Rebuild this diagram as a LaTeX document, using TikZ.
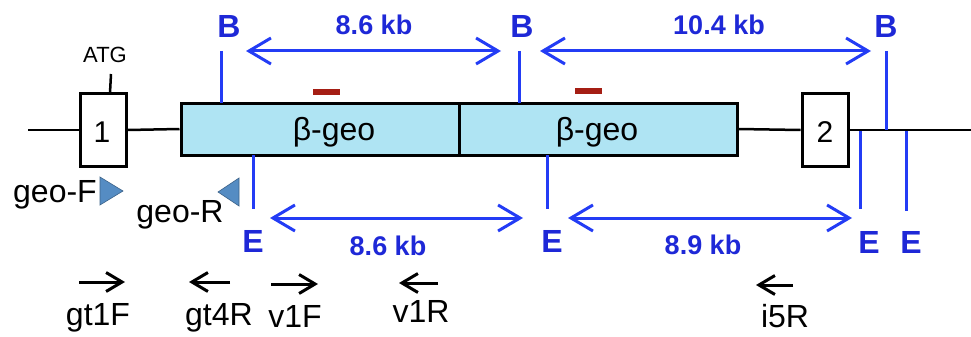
\documentclass[tikz,border=0pt]{standalone}
\usepackage{fontspec}
\setmainfont{Liberation Sans}
\usetikzlibrary{arrows.meta}
\definecolor{geoblue}{RGB}{175,228,243}
\definecolor{siteblue}{RGB}{35,60,245}
\definecolor{txtblue}{RGB}{30,40,215}
\definecolor{probecol}{RGB}{165,30,20}
\definecolor{primercol}{RGB}{85,140,195}
\begin{document}
\begin{tikzpicture}[x=1pt,y=-1pt,
  exonbox/.style={draw=black,line width=3pt,fill=white,inner sep=0pt,minimum width=46pt,minimum height=73pt},
  geobox/.style={draw=black,line width=3pt,fill=geoblue,inner sep=0pt,minimum width=278pt,minimum height=52pt},
  mainline/.style={line width=2.5pt,black},
  siteline/.style={line width=3pt,siteblue},
  dimarrow/.style={line width=3pt,siteblue,{Straight Barb[length=22pt,width=26pt,line width=3pt]}-{Straight Barb[length=22pt,width=26pt,line width=3pt]}},
  sitelbl/.style={text=txtblue,font=\fontsize{32}{38}\selectfont\bfseries,inner sep=0pt},
  kblbl/.style={text=txtblue,font=\fontsize{27}{32}\selectfont\bfseries,inner sep=0pt},
  lbl/.style={text=black,font=\fontsize{32}{38}\selectfont,inner sep=0pt,anchor=base},
  primerarrow/.style={line width=3pt,black,-{Straight Barb[length=16pt,width=19pt,line width=3pt]}},
  probebar/.style={line width=6pt,probecol},
  tri/.style={fill=primercol,draw=primercol!70!black,line width=0.6pt}
]
\useasboundingbox (0,0) rectangle (971,337);

% main line and boxes
\coordinate (lineL) at (28,130);
\coordinate (lineR) at (971,130);
\node[exonbox] (ex1) at (103,130) {};
\node[geobox] (geo1) at (320,129) {};
\node[geobox] (geo2) at (598,129) {};
\node[exonbox] (ex2) at (825,130) {};
\draw[mainline] (lineL) -- (ex1.west);
\draw[mainline] (ex1.east) -- (geo1.west);
\draw[mainline] (geo2.east) -- (ex2.west);
\draw[mainline] (ex2.east) -- (lineR);
\node[geobox] at (320,129) {};
\node[geobox] at (598,129) {};
\node[exonbox] at (103,130) {};
\node[exonbox] at (825,130) {};

\node[lbl,font=\fontsize{30}{34}\selectfont] (n1) at (102,142) {1};
\node[lbl,font=\fontsize{30}{34}\selectfont] (n2) at (825,142) {2};
\node[lbl] (g1lbl) at (334,140) {β-geo};
\node[lbl] (g2lbl) at (597,140) {β-geo};

% ATG
\node[lbl,font=\fontsize{22}{26}\selectfont] (atg) at (105,63) {ATG};
\coordinate (atgtop) at (111,74);
\coordinate (atgbot) at (110,93);
\draw[line width=2.5pt] (atgtop) -- (atgbot);

% probes
\coordinate (p1a) at (313,92); \coordinate (p1b) at (340,92);
\coordinate (p2a) at (575,91); \coordinate (p2b) at (602,91);
\draw[probebar] (p1a) -- (p1b);
\draw[probebar] (p2a) -- (p2b);

% B sites
\node[sitelbl] (B1) at (229,26) {B};
\node[sitelbl] (B2) at (522,26) {B};
\node[sitelbl] (B3) at (886,26) {B};
\coordinate (b1t) at (221,51); \coordinate (b1b) at (221,103);
\coordinate (b2t) at (519,51); \coordinate (b2b) at (519,103);
\coordinate (b3t) at (886,51); \coordinate (b3b) at (886,130);
\draw[siteline] (b1t) -- (b1b);
\draw[siteline] (b2t) -- (b2b);
\draw[siteline] (b3t) -- (b3b);

% top distances
\coordinate (ta1) at (246,51); \coordinate (ta2) at (501,51);
\coordinate (tb1) at (540,51); \coordinate (tb2) at (871,51);
\draw[dimarrow] (ta1) -- (ta2);
\draw[dimarrow] (tb1) -- (tb2);
\node[kblbl] (kb1) at (374,25) {8.6 kb};
\node[kblbl] (kb2) at (719,25) {10.4 kb};

% E sites
\coordinate (e1t) at (253,155); \coordinate (e1b) at (253,209);
\coordinate (e2t) at (547,155); \coordinate (e2b) at (547,209);
\coordinate (e3t) at (860,131); \coordinate (e3b) at (860,209);
\coordinate (e4t) at (906,131); \coordinate (e4b) at (906,211);
\draw[siteline] (e1t) -- (e1b);
\draw[siteline] (e2t) -- (e2b);
\draw[siteline] (e3t) -- (e3b);
\draw[siteline] (e4t) -- (e4b);
\node[sitelbl] (E1) at (253,241) {E};
\node[sitelbl] (E2) at (552,241) {E};
\node[sitelbl] (E3) at (869,242) {E};
\node[sitelbl] (E4) at (911,242) {E};

% bottom distances
\coordinate (ba1) at (270,218); \coordinate (ba2) at (523,218);
\coordinate (bb1) at (568,218); \coordinate (bb2) at (852,218);
\draw[dimarrow] (ba1) -- (ba2);
\draw[dimarrow] (bb1) -- (bb2);
\node[kblbl] (kb3) at (388,246) {8.6 kb};
\node[kblbl] (kb4) at (703,245) {8.9 kb};

% geo primers
\coordinate (fa) at (100,177); \coordinate (fb) at (100,205); \coordinate (fc) at (123,191);
\coordinate (ra) at (239,178); \coordinate (rb) at (239,206); \coordinate (rc) at (218,192);
\draw[tri] (fa) -- (fb) -- (fc) -- cycle;
\draw[tri] (ra) -- (rb) -- (rc) -- cycle;
\node[lbl] (geoF) at (55,202) {geo-F};
\node[lbl] (geoR) at (180,222) {geo-R};

% PCR primers
\coordinate (gt1a) at (79,282); \coordinate (gt1b) at (125,282);
\coordinate (gt4a) at (230,282); \coordinate (gt4b) at (189,282);
\coordinate (v1fa) at (271,284); \coordinate (v1fb) at (318,284);
\coordinate (v1ra) at (438,283); \coordinate (v1rb) at (399,283);
\coordinate (i5a) at (793,285); \coordinate (i5b) at (756,285);
\draw[primerarrow] (gt1a) -- (gt1b);
\draw[primerarrow] (gt4a) -- (gt4b);
\draw[primerarrow] (v1fa) -- (v1fb);
\draw[primerarrow] (v1ra) -- (v1rb);
\draw[primerarrow] (i5a) -- (i5b);
\node[lbl] (gt1F) at (98,325) {gt1F};
\node[lbl] (gt4R) at (219,325) {gt4R};
\node[lbl] (v1F) at (295,327) {v1F};
\node[lbl] (v1R) at (421,322) {v1R};
\node[lbl] (i5R) at (785,327) {i5R};
\end{tikzpicture}
\end{document}
